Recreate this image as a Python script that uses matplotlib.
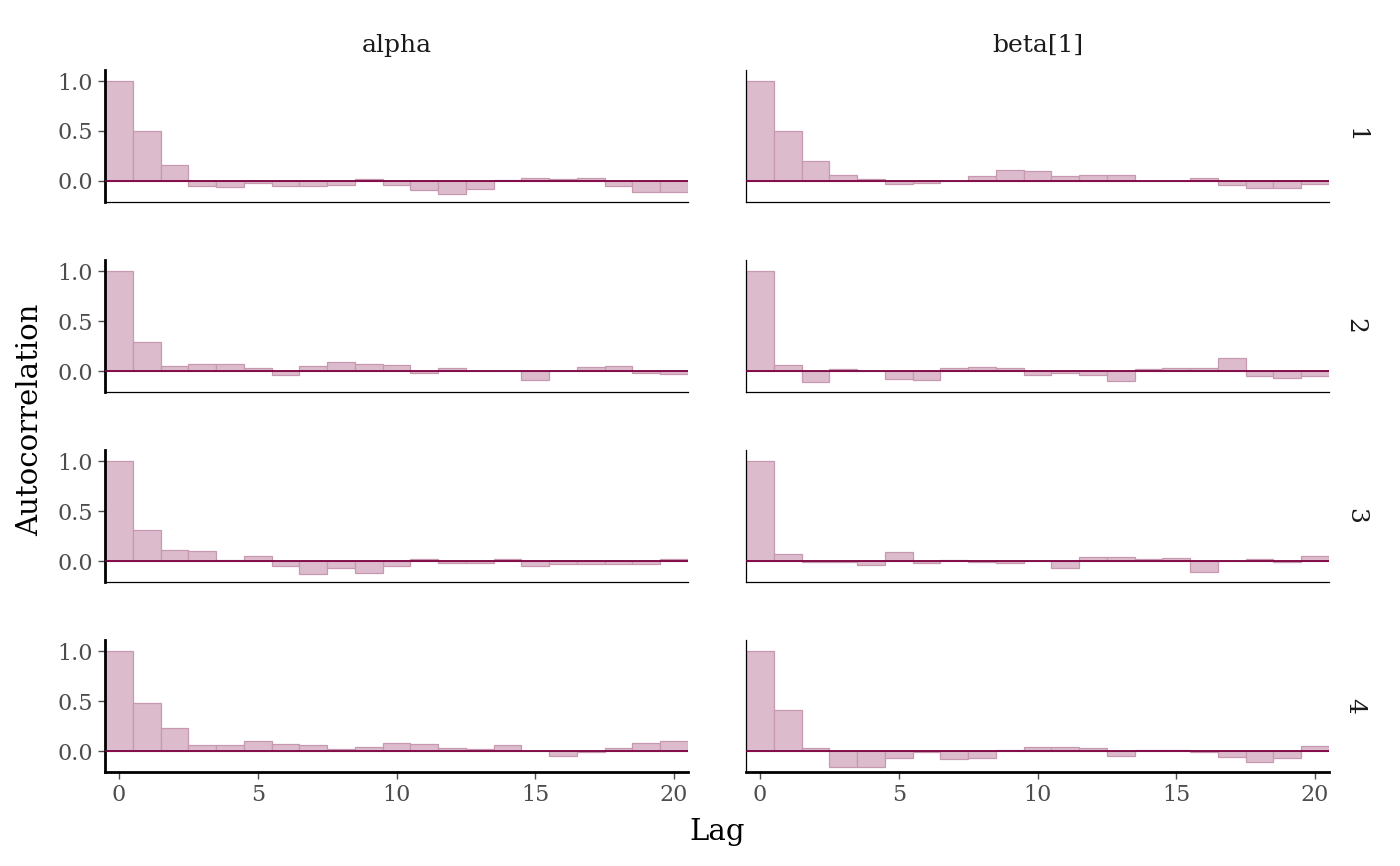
import matplotlib
matplotlib.use("Agg")
import matplotlib.pyplot as plt
import numpy as np

params = ["alpha", "beta[1]"]
chains = ["1", "2", "3", "4"]
lags = list(range(21))

acf_alpha_1 = [1.0, 0.50, 0.158, -0.047, -0.06, -0.023, -0.047, -0.047, -0.045, 0.023, -0.04,
               -0.087, -0.134, -0.08, 0.013, 0.034, 0.023, 0.034, -0.05, -0.114, -0.114]
acf_beta_1 = [1.0, 0.50, 0.195, 0.057, 0.017, -0.034, -0.023, 0.003, 0.047, 0.107, 0.104,
              0.05, 0.06, 0.057, 0.0, 0.0, 0.027, -0.04, -0.067, -0.067, -0.027]
acf_alpha_2 = [1.0, 0.292, 0.047, 0.074, 0.074, 0.03, -0.037, 0.054, 0.094, 0.07, 0.064,
               -0.017, 0.03, 0.0, 0.0, -0.087, 0.0, 0.037, 0.054, -0.023, -0.034]
acf_beta_2 = [1.0, 0.06, -0.11, 0.017, 0.003, -0.077, -0.094, 0.027, 0.037, 0.027, -0.044,
              -0.023, -0.037, -0.097, 0.02, 0.027, 0.03, 0.128, -0.047, -0.074, -0.054]
acf_alpha_3 = [1.0, 0.312, 0.114, 0.10, 0.01, 0.047, -0.054, -0.134, -0.074, -0.117, -0.047,
               0.017, -0.017, -0.023, 0.023, -0.054, -0.03, -0.027, -0.034, -0.03, 0.017]
acf_beta_3 = [1.0, 0.067, -0.01, -0.007, -0.037, 0.09, -0.017, 0.013, -0.01, -0.023, 0.0,
              -0.067, 0.044, 0.037, 0.017, 0.027, -0.114, 0.0, 0.023, -0.013, 0.047]
acf_alpha_4 = [1.0, 0.477, 0.232, 0.064, 0.064, 0.097, 0.074, 0.064, 0.023, 0.044, 0.084,
               0.074, 0.034, 0.023, 0.064, 0.0, -0.047, -0.01, 0.034, 0.08, 0.104]
acf_beta_4 = [1.0, 0.406, 0.034, -0.161, -0.161, -0.07, -0.005, -0.077, -0.07, 0.013, 0.044,
              0.044, 0.027, -0.047, 0.01, 0.013, -0.013, -0.057, -0.114, -0.067, 0.054]

data = [[acf_alpha_1, acf_beta_1],
        [acf_alpha_2, acf_beta_2],
        [acf_alpha_3, acf_beta_3],
        [acf_alpha_4, acf_beta_4]]

fill = "#dcbccc"
edge = "#c799b0"
line = "#7c003e"
tickc = "#4d4d4d"

plt.rcParams["font.family"] = ["DejaVu Serif"]

fig = plt.figure(figsize=(14, 8.66), dpi=100)
W, H = 1400, 866
lefts = [105, 746]
width = 583
tops = [70, 260, 450, 640]
height = 132

for r in range(4):
    for c in range(2):
        ax = fig.add_axes([lefts[c] / W, 1 - (tops[r] + height) / H, width / W, height / H])
        ax.bar(lags, data[r][c], width=1.0, color=fill, edgecolor=edge, linewidth=0.9, zorder=2)
        ax.axhline(0, color=line, lw=1.3, zorder=3)
        ax.set_xlim(-0.5, 20.5)
        ax.set_ylim(-0.21, 1.11)
        for s in ["top", "right"]:
            ax.spines[s].set_visible(False)
        ax.spines["left"].set_color("black")
        ax.spines["bottom"].set_color("black")
        ax.spines["left"].set_linewidth(2.0 if c == 0 else 0.9)
        ax.spines["bottom"].set_linewidth(2.0 if r == 3 else 0.9)
        ax.set_yticks([0.0, 0.5, 1.0])
        ax.set_xticks([0, 5, 10, 15, 20])
        ax.tick_params(axis="both", colors=tickc, labelsize=16, length=5, width=1.0,
                       labelcolor=tickc)
        if c == 0:
            ax.set_yticklabels(["0.0", "0.5", "1.0"])
        else:
            ax.tick_params(axis="y", left=False, labelleft=False)
        if r != 3:
            ax.tick_params(axis="x", bottom=False, labelbottom=False)
        if r == 0:
            ax.set_title(params[c], fontsize=18, color="#1a1a1a", pad=13)
        if c == 1:
            ax.text(1.045, 0.5, chains[r], transform=ax.transAxes, rotation=-90,
                    ha="center", va="center", fontsize=18, color="#1a1a1a")

fig.text(717 / W, 1 - 832 / H, "Lag", ha="center", va="center", fontsize=21, color="black")
fig.text(30 / W, 1 - 420 / H, "Autocorrelation", ha="center", va="center", rotation=90,
         fontsize=21, color="black")

fig.savefig("out.png", dpi=100, facecolor="white")
